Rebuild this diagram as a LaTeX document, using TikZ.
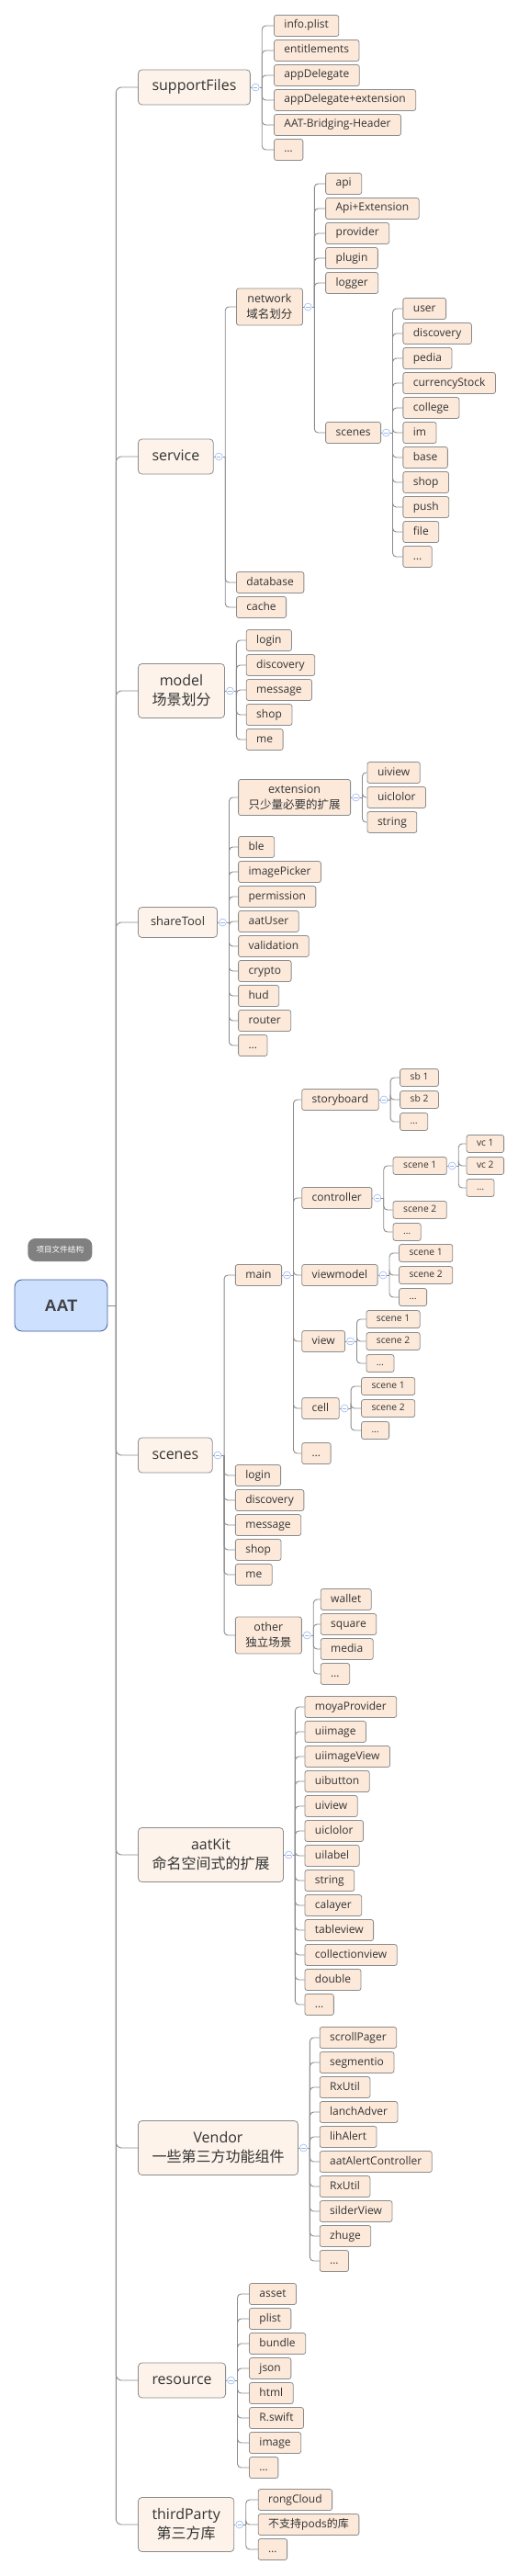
\documentclass[tikz,border=0pt]{standalone}
\usepackage{fontspec}
\setmainfont{Open Sans}
\newfontfamily\cjk{Noto Sans CJK SC}
\newfontfamily\heavy{Liberation Sans}
\usetikzlibrary{positioning}
\definecolor{rootfill}{HTML}{FDF3EA}
\definecolor{leaffill}{HTML}{FCE9DA}
\definecolor{boxline}{HTML}{8C8C8C}
\definecolor{linkgray}{HTML}{8A8A8A}
\definecolor{foldblue}{HTML}{9DB8EC}
\definecolor{aatfill}{HTML}{CDE0FE}
\definecolor{aatline}{HTML}{3F5B96}
\definecolor{ink}{HTML}{333333}
\tikzset{
  box/.style={draw=boxline, line width=0.8pt, anchor=west, align=center, inner ysep=0pt, text=ink},
  topic/.style={box, fill=rootfill, rounded corners=4pt, inner xsep=15pt, minimum height=38pt,
    text height=11.5pt, text depth=3.5pt, font=\fontsize{16}{21}\selectfont},
  topicii/.style={box, fill=rootfill, rounded corners=4pt, inner xsep=15pt, minimum height=59pt,
    font=\fontsize{16}{21}\selectfont},
  leaf/.style={box, fill=leaffill, rounded corners=2.5pt, inner xsep=11pt, minimum height=23pt,
    text height=8.5pt, text depth=2.5pt, font=\fontsize{12}{14}\selectfont},
  leafii/.style={box, fill=leaffill, rounded corners=2.5pt, inner xsep=11pt, minimum height=40pt,
    font=\fontsize{12.5}{17}\selectfont},
  twig/.style={leaf, minimum height=19pt, text height=7.5pt, text depth=2pt, font=\fontsize{10.3}{12}\selectfont},
  fold/.style={circle, draw=foldblue, line width=0.6pt, fill=white, inner sep=0pt, minimum size=8pt,
    path picture={\draw[foldblue, line width=0.6pt] ([xshift=-2.2pt]path picture bounding box.center)
      -- ([xshift=2.2pt]path picture bounding box.center);}},
  link/.style={draw=linkgray, line width=0.9pt},
}
\begin{document}
\begin{tikzpicture}[x=1.08pt, y=-1pt]
  \useasboundingbox (0,0) rectangle (522.2,2804);
  % root
  \node[fill=gray, rounded corners=8pt, minimum width=70pt, minimum height=25pt, inner sep=0pt,
    text=white, font=\cjk\fontsize{8.6}{10}\selectfont] (title) at (60.5,1360.5) {项目文件结构};
  \node[draw=aatline, line width=0.8pt, fill=aatfill, rounded corners=8pt, minimum width=101pt,
    minimum height=56pt, text=black!75, font=\heavy\bfseries\fontsize{18}{21}\selectfont] (aat) at (61.5,1421) {AAT};
  % main topics
  \node[topic] (sup) at (139,95) {supportFiles};
  \node[topic] (svc) at (139,497) {service};
  \node[topicii] (mdl) at (139,752) {model\\{\cjk 场景划分}};
  \node[topic, inner xsep=13.5pt, minimum height=33pt, text height=9.5pt, text depth=3pt,
    font=\fontsize{13}{15}\selectfont] (shr) at (139,1004) {shareTool};
  \node[topic] (scn) at (139,1584) {scenes};
  \node[topicii] (kit) at (139,2019) {aatKit\\{\cjk 命名空间式的扩展}};
  \node[topicii] (vnd) at (139,2338) {Vendor\\{\cjk 一些第三方功能组件}};
  \node[topic] (res) at (139,2591) {resource};
  \node[topicii] (thp) at (139,2748) {thirdParty\\{\cjk 第三方库}};
  % supportFiles
  \foreach \lbl [count=\i] in {info.plist, entitlements, appDelegate, appDelegate+extension,
      AAT-Bridging-Header, \ldots}
    \node[leaf] (sup\i) at (276,{1+27*\i}) {\lbl};
  % service
  \node[leafii] (svc1) at (238,334) {network\\{\cjk 域名划分}};
  \node[leaf] (svc2) at (238,634) {database};
  \node[leaf] (svc3) at (238,661) {cache};
  \foreach \lbl [count=\i] in {api, Api+Extension, provider, plugin, logger}
    \node[leaf] (svc1\i) at (328,{173+27*\i}) {\lbl};
  \node[leaf] (svc16) at (328,471) {scenes};
  \foreach \lbl [count=\i] in {user, discovery, pedia, currencyStock, college, im, base, shop,
      push, file, \ldots}
    \node[leaf] (svc16\i) at (406,{309+27*\i}) {\lbl};
  % model
  \foreach \lbl [count=\i] in {login, discovery, message, shop, me}
    \node[leaf] (mdl\i) at (248,{670+27*\i}) {\lbl};
  % shareTool
  \node[leafii, minimum height=39pt] (shr1) at (240,868) {extension\\{\cjk 只少量必要的扩展}};
  \foreach \lbl [count=\i] in {uiview, uiclolor, string}
    \node[leaf] (shr1\i) at (370,{814+27*\i}) {\lbl};
  \foreach \lbl [count=\i from 2] in {ble, imagePicker, permission, aatUser, validation, crypto,
      hud, router, \ldots}
    \node[leaf] (shr\i) at (240,{868+27*\i}) {\lbl};
  % scenes
  \node[leaf] (scn1) at (237,1388) {main};
  \foreach \lbl [count=\i from 2] in {login, discovery, message, shop, me}
    \node[leaf] (scn\i) at (237,{1552+27*\i}) {\lbl};
  \node[leafii] (scn7) at (237,1780) {other\\{\cjk 独立场景}};
  \foreach \lbl [count=\i] in {wallet, square, media, \ldots}
    \node[leaf] (scn7\i) at (323,{1714+27*\i}) {\lbl};
  \foreach \lbl/\y [count=\i] in {storyboard/1197, controller/1304, viewmodel/1388, view/1460,
      cell/1533, \ldots/1582}
    \node[leaf] (scn1\i) at (304,\y) {\lbl};
  \foreach \lbl [count=\i] in {sb 1, sb 2, \ldots}
    \node[twig] (scn11\i) at (403,{1149+24*\i}) {\lbl};
  \foreach \lbl/\y [count=\i] in {scene 1/1269, scene 2/1317, \ldots/1341}
    \node[twig] (scn12\i) at (396,\y) {\lbl};
  \foreach \lbl [count=\i] in {vc 1, vc 2, \ldots}
    \node[twig] (scn121\i) at (470,{1221+24*\i}) {\lbl};
  \foreach \lbl [count=\i] in {scene 1, scene 2, \ldots}
    \node[twig] (scn13\i) at (402,{1340+24*\i}) {\lbl};
  \foreach \lbl [count=\i] in {scene 1, scene 2, \ldots}
    \node[twig] (scn14\i) at (369,{1412+24*\i}) {\lbl};
  \foreach \lbl [count=\i] in {scene 1, scene 2, \ldots}
    \node[twig] (scn15\i) at (364,{1485+24*\i}) {\lbl};
  % aatKit
  \foreach \lbl [count=\i] in {moyaProvider, uiimage, uiimageView, uibutton, uiview, uiclolor,
      uilabel, string, calayer, tableview, collectionview, double, \ldots}
    \node[leaf] (kit\i) at (307,{1831+27*\i}) {\lbl};
  % Vendor
  \foreach \lbl [count=\i] in {scrollPager, segmentio, RxUtil, lanchAdver, lihAlert,
      aatAlertController, RxUtil, silderView, zhuge, \ldots}
    \node[leaf] (vnd\i) at (322,{2191+27*\i}) {\lbl};
  % resource
  \foreach \lbl [count=\i] in {asset, plist, bundle, json, html, R.swift, image, \ldots}
    \node[leaf] (res\i) at (251,{2470+27*\i}) {\lbl};
  % thirdParty
  \foreach \lbl [count=\i] in {rongCloud, {\cjk 不支持}pods{\cjk 的库}, \ldots}
    \node[leaf] (thp\i) at (260,{2694+27*\i}) {\lbl};
  % trunk
  \coordinate (trunk) at (117,1421);
  \draw[link] (aat.east) -- (trunk);
  \foreach \n in {sup,svc,mdl,shr,scn,kit,vnd,res,thp}
    \draw[link, rounded corners=6pt] (trunk) |- (\n.west);
  % branches
  \foreach \p/\k in {sup/6, svc/3, svc1/6, svc16/11, mdl/5, shr/10, shr1/3, scn/7, scn1/6,
      scn11/3, scn12/3, scn121/3, scn13/3, scn14/3, scn15/3, scn7/4, kit/13, vnd/10, res/8, thp/3} {
    \node[fold] (\p-f) at ([xshift=5.5pt]\p.east) {};
    \coordinate (\p-v) at ([xshift=12.5pt]\p.east);
    \draw[link] (\p.east) -- (\p-f.west) (\p-f.east) -- (\p-v);
    \foreach \i in {1,...,\k}
      \draw[link, rounded corners=4pt] (\p-v) |- (\p\i.west);
  }
\end{tikzpicture}
\end{document}
